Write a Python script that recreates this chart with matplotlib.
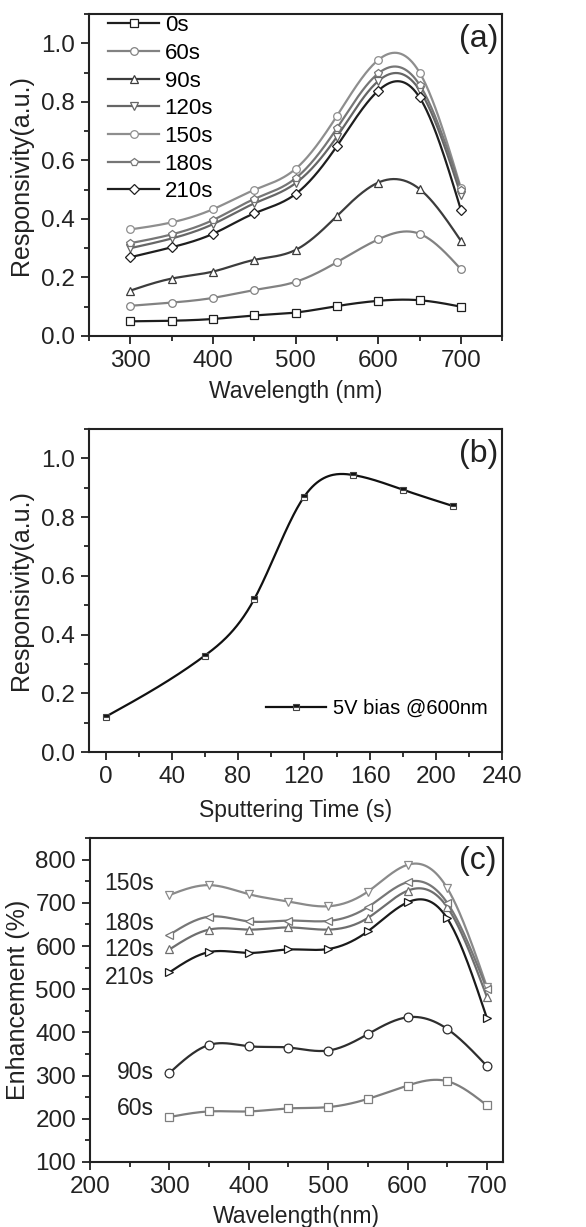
import numpy as np
import matplotlib
matplotlib.use("Agg")
import matplotlib.pyplot as plt
from matplotlib.ticker import MultipleLocator, FormatStrFormatter

plt.rcParams['font.family'] = ['Liberation Sans', 'DejaVu Sans']

# ---------------- data ----------------
wl = [300, 350, 400, 450, 500, 550, 600, 650, 700]

# panel (a): responsivity vs wavelength
resp_0s = [0.050, 0.052, 0.058, 0.070, 0.080, 0.102, 0.120, 0.122, 0.100]
resp_60s = [0.103, 0.114, 0.130, 0.157, 0.185, 0.252, 0.330, 0.349, 0.228]
resp_90s = [0.155, 0.196, 0.220, 0.260, 0.294, 0.410, 0.524, 0.502, 0.325]
resp_120s = [0.300, 0.333, 0.382, 0.453, 0.522, 0.681, 0.871, 0.840, 0.482]
resp_150s = [0.364, 0.388, 0.433, 0.499, 0.571, 0.752, 0.943, 0.900, 0.505]
resp_180s = [0.317, 0.347, 0.396, 0.468, 0.539, 0.710, 0.897, 0.858, 0.500]
resp_210s = [0.269, 0.303, 0.349, 0.419, 0.485, 0.649, 0.838, 0.815, 0.431]

# panel (b): responsivity at 600 nm vs sputtering time
sp_time = [0, 60, 90, 120, 150, 180, 210]
resp_600 = [0.120, 0.328, 0.521, 0.868, 0.943, 0.893, 0.838]

# panel (c): enhancement (%)
enh_60s = [204, 217, 217, 224, 227, 246, 277, 287, 231]
enh_90s = [306, 371, 368, 365, 358, 396, 435, 408, 322]
enh_120s = [592, 638, 638, 643, 638, 665, 728, 690, 482]
enh_150s = [718, 741, 720, 703, 692, 726, 788, 734, 505]
enh_180s = [626, 668, 657, 659, 658, 690, 748, 700, 500]
enh_210s = [539, 586, 584, 592, 593, 634, 701, 664, 433]


def smooth(x, y, n=300):
    # natural cubic spline, only for drawing the connecting line
    x = np.asarray(x, float)
    y = np.asarray(y, float)
    k = len(x)
    h = np.diff(x)
    A = np.zeros((k, k))
    b = np.zeros(k)
    A[0, 0] = 1
    A[-1, -1] = 1
    for i in range(1, k - 1):
        A[i, i - 1] = h[i - 1]
        A[i, i] = 2 * (h[i - 1] + h[i])
        A[i, i + 1] = h[i]
        b[i] = 6 * ((y[i + 1] - y[i]) / h[i] - (y[i] - y[i - 1]) / h[i - 1])
    M = np.linalg.solve(A, b)
    xs = np.linspace(x[0], x[-1], n)
    j = np.clip(np.searchsorted(x, xs) - 1, 0, k - 2)
    t0 = xs - x[j]
    t1 = x[j + 1] - xs
    hj = h[j]
    ys = (M[j] * t1 ** 3 + M[j + 1] * t0 ** 3) / (6 * hj) \
        + (y[j] / hj - M[j] * hj / 6) * t1 + (y[j + 1] / hj - M[j + 1] * hj / 6) * t0
    return xs, ys


def style_axes(ax):
    for s in ax.spines.values():
        s.set_linewidth(1.5)
        s.set_color('#222222')
    ax.tick_params(which='both', direction='out', top=False, right=False,
                   labelsize=17.5, width=1.3, colors='#222222')
    ax.tick_params(which='major', length=6, pad=4)
    ax.tick_params(which='minor', length=3.5)


def draw(ax, x, y, color, marker, label=None, ms=5.5):
    xs, ys = smooth(x, y)
    ax.plot(xs, ys, color=color, lw=1.6, zorder=2)
    ax.plot(x, y, ls='none', marker=marker, ms=ms, mfc='white', mec=color,
            mew=0.9, zorder=3)
    if label is not None:
        ax.plot([], [], color=color, lw=1.6, marker=marker, ms=ms, mfc='white',
                mec=color, mew=0.9, label=label)


fig = plt.figure(figsize=(5.86, 12.27), dpi=100)

# ---------------- (a) ----------------
ax1 = fig.add_axes([0.152, 0.7262, 0.705, 0.2624])
series_a = [
    (resp_0s, '#1e1e1e', 's', '0s'),
    (resp_60s, '#828282', 'o', '60s'),
    (resp_90s, '#3c3c3c', '^', '90s'),
    (resp_120s, '#666666', 'v', '120s'),
    (resp_150s, '#8e8e8e', 'o', '150s'),
    (resp_180s, '#767676', 'p', '180s'),
    (resp_210s, '#1e1e1e', 'D', '210s'),
]
for vals, c, m, lab in series_a:
    draw(ax1, wl, vals, c, m, lab, ms=5.5 if m != 'D' else 4.8)
ax1.set_xlim(250, 750)
ax1.set_ylim(0, 1.1)
ax1.xaxis.set_major_locator(MultipleLocator(100))
ax1.xaxis.set_minor_locator(MultipleLocator(50))
ax1.yaxis.set_major_locator(MultipleLocator(0.2))
ax1.yaxis.set_minor_locator(MultipleLocator(0.1))
ax1.yaxis.set_major_formatter(FormatStrFormatter('%.1f'))
ax1.set_xlabel('Wavelength (nm)', fontsize=16.5, color='#222222', labelpad=6)
ax1.set_ylabel('Responsivity(a.u.)', fontsize=18, color='#222222', labelpad=6)
ax1.text(0.99, 0.97, '(a)', transform=ax1.transAxes, ha='right', va='top',
         fontsize=23, color='#222222')
ax1.legend(loc='upper left', frameon=False, fontsize=16, handlelength=2.3,
           labelspacing=0.3, handletextpad=0.25, borderaxespad=0.0,
           borderpad=0.2, bbox_to_anchor=(0.035, 1.01))
style_axes(ax1)

# ---------------- (b) ----------------
ax2 = fig.add_axes([0.152, 0.3871, 0.705, 0.2633])
xs, ys = smooth(sp_time, resp_600)
ax2.plot(xs, ys, color='#111111', lw=1.6, zorder=2)
ax2.plot(sp_time, resp_600, ls='none', marker='s', ms=4.8, fillstyle='top',
         mfc='#111111', mfcalt='white', mec='#444444', mew=0.8, zorder=3)
ax2.plot([], [], color='#111111', lw=1.6, marker='s', ms=4.8, fillstyle='top',
         mfc='#111111', mfcalt='white', mec='#444444', mew=0.8,
         label='5V bias @600nm')
ax2.set_xlim(-10, 240)
ax2.set_ylim(0, 1.1)
ax2.xaxis.set_major_locator(MultipleLocator(40))
ax2.xaxis.set_minor_locator(MultipleLocator(20))
ax2.yaxis.set_major_locator(MultipleLocator(0.2))
ax2.yaxis.set_minor_locator(MultipleLocator(0.1))
ax2.yaxis.set_major_formatter(FormatStrFormatter('%.1f'))
ax2.set_xlabel('Sputtering Time (s)', fontsize=16.5, color='#222222', labelpad=8)
ax2.set_ylabel('Responsivity(a.u.)', fontsize=18, color='#222222', labelpad=6)
ax2.text(0.99, 0.97, '(b)', transform=ax2.transAxes, ha='right', va='top',
         fontsize=23, color='#222222')
ax2.legend(loc='center right', frameon=False, fontsize=14.5, handlelength=3.0,
           handletextpad=0.35, borderaxespad=0.0, bbox_to_anchor=(0.985, 0.136))
style_axes(ax2)

# ---------------- (c) ----------------
ax3 = fig.add_axes([0.1536, 0.053, 0.7044, 0.264])
series_c = [
    (enh_60s, '#7e7e7e', 's', '60s', 223),
    (enh_90s, '#2e2e2e', 'o', '90s', 308),
    (enh_120s, '#6e6e6e', '^', '120s', 593),
    (enh_150s, '#8a8a8a', 'v', '150s', 744),
    (enh_180s, '#777777', '<', '180s', 651),
    (enh_210s, '#1a1a1a', '>', '210s', 528),
]
for vals, c, m, lab, ty in series_c:
    draw(ax3, wl, vals, c, m, ms=6.3)
    ax3.text(281, ty, lab, ha='right', va='center', fontsize=16.5, color='#222222')
ax3.set_xlim(200, 720)
ax3.set_ylim(100, 850)
ax3.xaxis.set_major_locator(MultipleLocator(100))
ax3.xaxis.set_minor_locator(MultipleLocator(50))
ax3.yaxis.set_major_locator(MultipleLocator(100))
ax3.yaxis.set_minor_locator(MultipleLocator(50))
ax3.set_xlabel('Wavelength(nm)', fontsize=16.5, color='#222222', labelpad=5)
ax3.set_ylabel('Enhancement (%)', fontsize=18, color='#222222', labelpad=4)
ax3.text(0.985, 0.975, '(c)', transform=ax3.transAxes, ha='right', va='top',
         fontsize=23, color='#222222')
style_axes(ax3)

fig.savefig('out.png', dpi=100)
